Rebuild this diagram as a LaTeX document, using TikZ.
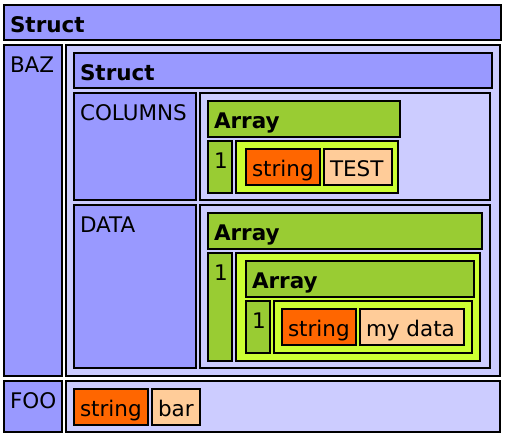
\documentclass[tikz,border=0pt]{standalone}
\usepackage{fontspec}
\setmainfont{DejaVu Sans}
\definecolor{keyblue}{HTML}{9999FF}
\definecolor{valblue}{HTML}{CCCCFF}
\definecolor{arrgreen}{HTML}{99CC33}
\definecolor{elemyellow}{HTML}{CCFF33}
\definecolor{typeorange}{HTML}{FF6600}
\definecolor{datapeach}{HTML}{FFCC99}
\begin{document}
\begin{tikzpicture}[x=1pt,y=-1pt,line width=2pt,
    keycell/.style={draw,fill=keyblue},
    valcell/.style={draw,fill=valblue},
    arrcell/.style={draw,fill=arrgreen},
    elemcell/.style={draw,fill=elemyellow},
    typecell/.style={draw,fill=typeorange},
    datacell/.style={draw,fill=datapeach},
    lbl/.style={anchor=base west,inner sep=0pt,font=\fontsize{21.5}{26}\selectfont}]
\useasboundingbox (0,0) rectangle (506,439);
\draw[keycell] (4,5) rectangle (501,40)
    (9,32) node (struct) [lbl] {\textbf{Struct}};
\draw[keycell] (4,45) rectangle (62,376)
    (9,72) node (baz) [lbl] {BAZ};
\draw[valcell] (66,45) rectangle (500,376);
\draw[keycell] (74,53) rectangle (492,88)
    (79,80) node (bazstruct) [lbl] {\textbf{Struct}};
\draw[keycell] (74,93) rectangle (196,200)
    (79,120) node (columns) [lbl] {COLUMNS};
\draw[valcell] (200,93) rectangle (490,200);
\draw[arrcell] (208,101) rectangle (400,137)
    (213,128) node (colarray) [lbl] {\textbf{Array}};
\draw[arrcell] (208,141) rectangle (232,193)
    (213,168) node (colidx) [lbl] {1};
\draw[elemcell] (236,141) rectangle (398,193);
\draw[typecell] (246,149) rectangle (320,185)
    (251,176) node (coltype) [lbl] {string};
\draw[datacell] (324,149) rectangle (392,185)
    (329,176) node (colvalue) [lbl] {TEST};
\draw[keycell] (74,205) rectangle (196,368)
    (79,232) node (data) [lbl] {DATA};
\draw[valcell] (200,205) rectangle (490,368);
\draw[arrcell] (208,213) rectangle (482,249)
    (213,240) node (dataarray) [lbl] {\textbf{Array}};
\draw[arrcell] (208,253) rectangle (232,361)
    (213,280) node (dataidx) [lbl] {1};
\draw[elemcell] (236,253) rectangle (480,361);
\draw[arrcell] (246,261) rectangle (474,297)
    (251,288) node (innerarray) [lbl] {\textbf{Array}};
\draw[arrcell] (246,301) rectangle (270,353)
    (251,328) node (inneridx) [lbl] {1};
\draw[elemcell] (274,301) rectangle (472,353);
\draw[typecell] (282,309) rectangle (356,345)
    (287,336) node (datatype) [lbl] {string};
\draw[datacell] (360,309) rectangle (464,345)
    (365,336) node (datavalue) [lbl] {my data};
\draw[keycell] (4,381) rectangle (62,432)
    (9,408) node (foo) [lbl] {FOO};
\draw[valcell] (66,381) rectangle (500,432);
\draw[typecell] (74,389) rectangle (148,425)
    (79,416) node (footype) [lbl] {string};
\draw[datacell] (152,389) rectangle (200,425)
    (157,416) node (foovalue) [lbl] {bar};
\end{tikzpicture}
\end{document}
